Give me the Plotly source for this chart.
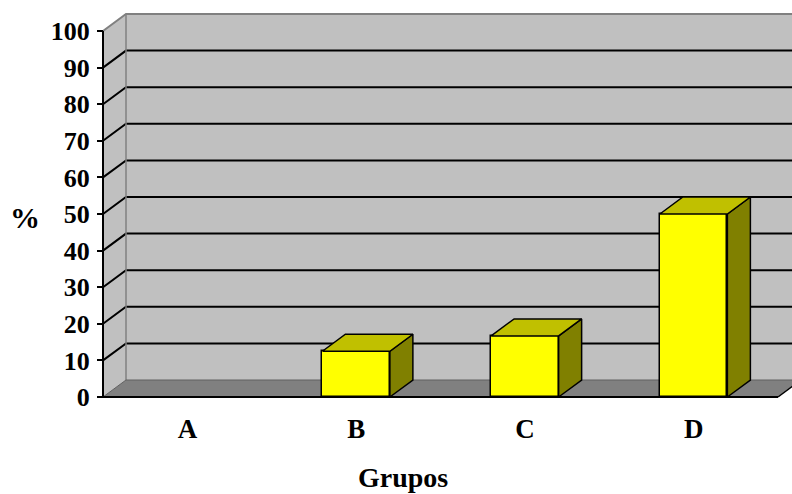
import plotly.graph_objects as go

# Data
groups = ["A", "B", "C", "D"]
percent = [0, 12.5, 16.7, 50]
y_ticks = list(range(0, 101, 10))

# Canvas and 3D-box geometry (pixels)
W, H = 792, 494
mar_l, mar_r, mar_t, mar_b = 100, 0, 13, 95
x_front = 103        # front-left corner of the box
y_zero = 397         # value 0 on the front plane
y_top = 31           # value 100 on the front plane
cat_px = 168.75      # width of one category slot
depth_px = (23, 17)  # depth offset of the back wall (right, up)
bar_w = 0.4

plot_w = W - mar_l - mar_r
plot_h = H - mar_t - mar_b
py = (y_zero - y_top) / 100.0
x_min = -0.5 - (x_front - mar_l) / cat_px
x_max = x_min + plot_w / cat_px
y_min = -(H - mar_b - y_zero) / py
y_max = (y_zero - mar_t) / py
dx = depth_px[0] / cat_px
dy = depth_px[1] / py
x_l = -0.5
x_r = len(groups) - 0.5
v_max = y_ticks[-1]

FONT = "Liberation Serif"
WALL = "#C0C0C0"
FLOOR = "#808080"
EDGE = "#808080"


def path(points, close=False):
    s = "M " + " L ".join(f"{x},{y}" for x, y in points)
    return s + (" Z" if close else "")


shapes = []
# back wall
shapes.append(dict(type="rect", xref="x", yref="y", layer="below",
                   x0=x_l + dx, x1=x_max + 1, y0=dy, y1=v_max + dy,
                   fillcolor=WALL, line=dict(width=0)))
# left side wall
shapes.append(dict(type="path", xref="x", yref="y", layer="below",
                   path=path([(x_l, 0), (x_l + dx, dy), (x_l + dx, v_max + dy), (x_l, v_max)], True),
                   fillcolor=WALL, line=dict(width=0)))
# floor
shapes.append(dict(type="path", xref="x", yref="y", layer="below",
                   path=path([(x_l, 0), (x_r, 0), (x_r + dx, dy), (x_l + dx, dy)], True),
                   fillcolor=FLOOR, line=dict(width=0)))
# gridlines on the side wall and back wall
for v in y_ticks[1:-1]:
    shapes.append(dict(type="path", xref="x", yref="y", layer="below",
                       path=path([(x_l, v), (x_l + dx, v + dy), (x_max + 1, v + dy)]),
                       line=dict(color="black", width=2)))
# box edges
shapes.append(dict(type="path", xref="x", yref="y", layer="below",
                   path=path([(x_l + dx, dy), (x_l + dx, v_max + dy)]),
                   line=dict(color=EDGE, width=1.5)))
shapes.append(dict(type="path", xref="x", yref="y", layer="below",
                   path=path([(x_l, v_max), (x_l + dx, v_max + dy), (x_max + 1, v_max + dy)]),
                   line=dict(color=EDGE, width=2)))
shapes.append(dict(type="path", xref="x", yref="y", layer="below",
                   path=path([(x_l, 0), (x_l + dx, dy), (x_max + 1, dy)]),
                   line=dict(color="#606060", width=1)))
# front axis lines
shapes.append(dict(type="path", xref="x", yref="y", layer="below",
                   path=path([(x_l, v_max), (x_l, 0), (x_r, 0)]),
                   line=dict(color="black", width=2)))
shapes.append(dict(type="path", xref="x", yref="y", layer="below",
                   path=path([(x_r, 0), (x_r + dx, dy)]),
                   line=dict(color="black", width=1.5)))

fig = go.Figure()

# front faces of the columns (no outline for empty columns)
fig.add_trace(go.Bar(x=list(range(len(groups))), y=percent, width=bar_w,
                     marker=dict(color="#FFFF00",
                                 line=dict(color="black",
                                           width=[1.5 if v > 0 else 0 for v in percent])),
                     hoverinfo="skip", showlegend=False))

# top and side faces of the columns
for i, v in enumerate(percent):
    if v <= 0:
        continue
    a, b = i - bar_w / 2, i + bar_w / 2
    side = [(b, 0), (b + dx, dy), (b + dx, v + dy), (b, v), (b, 0)]
    top = [(a, v), (b, v), (b + dx, v + dy), (a + dx, v + dy), (a, v)]
    for pts, col in ((side, "#808000"), (top, "#C0C000")):
        fig.add_trace(go.Scatter(x=[p[0] for p in pts], y=[p[1] for p in pts],
                                 mode="lines", fill="toself", fillcolor=col,
                                 line=dict(color="black", width=1.5),
                                 hoverinfo="skip", showlegend=False))

y_font = dict(family=FONT, size=26, color="black", weight="bold")
x_font = dict(family=FONT, size=27, color="black", weight="bold")

fig.update_layout(
    width=W, height=H,
    margin=dict(l=mar_l, r=mar_r, t=mar_t, b=mar_b, pad=0),
    paper_bgcolor="white", plot_bgcolor="white",
    shapes=shapes,
    bargap=0,
    xaxis=dict(range=[x_min, x_max], tickmode="array",
               tickvals=list(range(len(groups))), ticktext=groups,
               ticks="", showline=False, showgrid=False, zeroline=False,
               tickfont=x_font, ticklabelstandoff=11, fixedrange=True),
    xaxis2=dict(range=[x_min, x_max], overlaying="x", anchor="free",
                position=(H - mar_b - y_zero) / plot_h, side="bottom",
                tickmode="array", tickvals=[i - 0.5 for i in range(len(groups) + 1)],
                ticks="outside", ticklen=6, tickwidth=2, tickcolor="black",
                showticklabels=False, showline=False, showgrid=False, zeroline=False),
    yaxis=dict(range=[y_min, y_max], tickmode="array", tickvals=y_ticks,
               ticks="outside", ticklen=6, tickwidth=2, tickcolor="black",
               showline=False, showgrid=False, zeroline=False,
               anchor="free", position=(x_front - mar_l) / plot_w,
               tickfont=y_font, ticklabelstandoff=2, fixedrange=True),
    annotations=[
        dict(text="%", xref="paper", yref="paper",
             x=(25 - mar_l) / plot_w, y=(H - mar_b - 217) / plot_h,
             xanchor="center", yanchor="middle", showarrow=False,
             font=dict(family=FONT, size=30, color="black", weight="bold")),
        dict(text="Grupos", xref="paper", yref="paper",
             x=(403 - mar_l) / plot_w, y=(H - mar_b - 477) / plot_h,
             xanchor="center", yanchor="middle", showarrow=False,
             font=dict(family=FONT, size=28, color="black", weight="bold")),
    ],
)

fig.write_html("out.html")
